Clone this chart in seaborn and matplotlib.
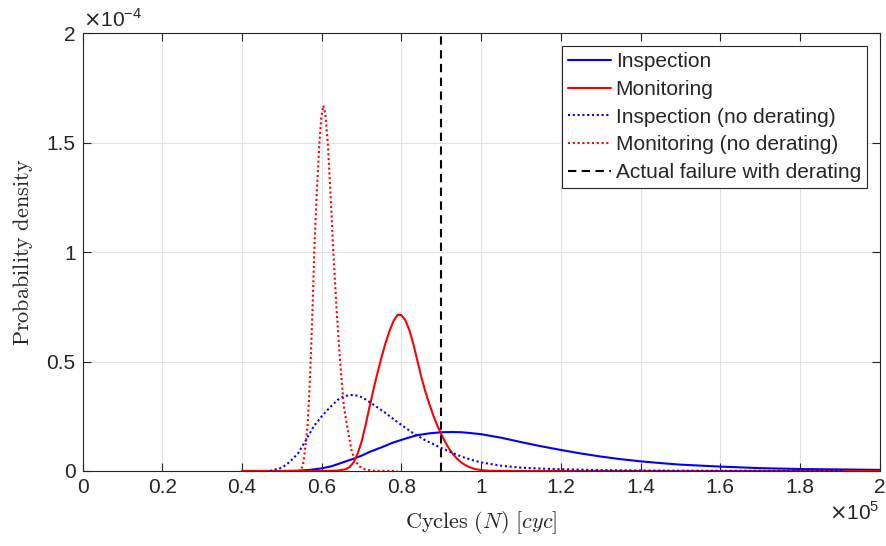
import matplotlib
matplotlib.use("Agg")
import matplotlib.pyplot as plt
from matplotlib.ticker import FuncFormatter
import numpy as np
import pandas as pd
import seaborn as sns

# Cycle axis values are in units of 1e5 cycles, densities in units of 1e-4.
X_UNIT = 1e5
Y_UNIT = 1e-4

# Inspection (with derating)
insp_x = [0.40, 0.50, 0.54, 0.57, 0.60, 0.625, 0.646, 0.665, 0.683, 0.70, 0.721,
          0.75, 0.779, 0.81, 0.838, 0.87, 0.90, 0.925, 0.95, 0.975, 1.00, 1.05,
          1.10, 1.15, 1.20, 1.25, 1.30, 1.35, 1.40, 1.45, 1.50, 1.60, 1.70, 1.80,
          1.90, 2.00]
insp_y = [0.0, 0.0, 0.001, 0.005, 0.012, 0.022, 0.035, 0.047, 0.058, 0.070, 0.088,
          0.108, 0.130, 0.148, 0.163, 0.172, 0.177, 0.178, 0.177, 0.173, 0.168, 0.152,
          0.132, 0.113, 0.096, 0.080, 0.066, 0.054, 0.044, 0.036, 0.029, 0.020, 0.013,
          0.009, 0.007, 0.005]

# Monitoring (with derating)
mon_x = [0.40, 0.60, 0.64, 0.66, 0.67, 0.68, 0.69, 0.70, 0.71, 0.72, 0.73, 0.74,
         0.75, 0.76, 0.77, 0.78, 0.79, 0.80, 0.81, 0.82, 0.83, 0.84, 0.85, 0.86,
         0.87, 0.88, 0.89, 0.90, 0.91, 0.92, 0.93, 0.94, 0.95, 0.96, 0.97, 0.98,
         0.99, 1.00, 1.02, 1.10, 2.00]
mon_y = [0.0, 0.0, 0.002, 0.008, 0.018, 0.040, 0.080, 0.135, 0.210, 0.295, 0.375,
         0.450, 0.520, 0.585, 0.640, 0.685, 0.714, 0.712, 0.688, 0.642, 0.578, 0.503,
         0.428, 0.362, 0.305, 0.253, 0.207, 0.167, 0.131, 0.100, 0.075, 0.055, 0.039,
         0.027, 0.018, 0.011, 0.007, 0.004, 0.001, 0.0, 0.0]

# Inspection (no derating)
insp_nd_x = [0.47, 0.48, 0.50, 0.52, 0.54, 0.56, 0.58, 0.60, 0.62, 0.64, 0.65,
             0.66, 0.67, 0.68, 0.69, 0.70, 0.71, 0.72, 0.74, 0.76, 0.78, 0.80,
             0.83, 0.86, 0.90, 0.925, 0.95, 0.975, 1.00, 1.05, 1.10, 1.15, 1.20,
             1.30, 1.40, 1.60, 1.91]
insp_nd_y = [0.0, 0.005, 0.015, 0.042, 0.080, 0.140, 0.205, 0.250, 0.290, 0.325, 0.336,
             0.343, 0.347, 0.347, 0.344, 0.337, 0.327, 0.315, 0.290, 0.265, 0.237, 0.210,
             0.172, 0.140, 0.105, 0.085, 0.066, 0.051, 0.039, 0.024, 0.015, 0.011, 0.008,
             0.004, 0.002, 0.0005, 0.0]

# Monitoring (no derating)
mon_nd_x = [0.540, 0.548, 0.553, 0.558, 0.564, 0.568, 0.572, 0.577, 0.581, 0.587,
            0.594, 0.599, 0.604, 0.609, 0.615, 0.622, 0.629, 0.637, 0.646, 0.655,
            0.665, 0.675, 0.685, 0.695, 0.710, 0.730, 0.790]
mon_nd_y = [0.0, 0.005, 0.030, 0.100, 0.200, 0.330, 0.500, 0.750, 1.000, 1.260,
            1.500, 1.620, 1.670, 1.630, 1.500, 1.260, 1.000, 0.740, 0.500, 0.300,
            0.190, 0.090, 0.045, 0.020, 0.006, 0.001, 0.0]

# Observed failure point with derating
failure_cycles = 0.9

series_labels = ["Inspection", "Monitoring", "Inspection (no derating)",
                 "Monitoring (no derating)"]
x_ticks = [0, 0.2, 0.4, 0.6, 0.8, 1, 1.2, 1.4, 1.6, 1.8, 2]
y_ticks = [0, 0.5, 1, 1.5, 2]

sns.set_theme(style="white")
plt.rcParams["font.family"] = ["Liberation Sans", "DejaVu Sans"]
plt.rcParams["mathtext.fontset"] = "cm"

frames = []
for lab, xs, ys in zip(series_labels,
                       [insp_x, mon_x, insp_nd_x, mon_nd_x],
                       [insp_y, mon_y, insp_nd_y, mon_nd_y]):
    frames.append(pd.DataFrame({"cycles": np.asarray(xs) * X_UNIT,
                                "density": np.asarray(ys) * Y_UNIT,
                                "series": lab}))
df = pd.concat(frames, ignore_index=True)

fig = plt.figure(figsize=(8.87, 5.46), dpi=100)
ax = fig.add_axes([0.0932, 0.1374, 0.8986, 0.8016])

styles = {
    "Inspection": dict(color=(0, 0, 1), dashes=None),
    "Monitoring": dict(color=(1, 0, 0), dashes=None),
    "Inspection (no derating)": dict(color=(0, 0, 1), dashes=(1, 1.3)),
    "Monitoring (no derating)": dict(color=(1, 0, 0), dashes=(1, 1.3)),
}
for lab in series_labels:
    sub = df[df["series"] == lab]
    st = styles[lab]
    sns.lineplot(data=sub, x="cycles", y="density", ax=ax, color=st["color"],
                 lw=1.5, label=lab, sort=True, estimator=None)
    if st["dashes"] is not None:
        ax.get_lines()[-1].set_dashes(st["dashes"])

fail_df = pd.DataFrame({"cycles": [failure_cycles * X_UNIT] * 2,
                        "density": [0.0, y_ticks[-1] * Y_UNIT]})
sns.lineplot(data=fail_df, x="cycles", y="density", ax=ax, color="black", lw=1.5,
             label="Actual failure with derating", estimator=None, sort=False)
ax.get_lines()[-1].set_dashes((4, 2.6))

ax.set_xlim(0, 2 * X_UNIT)
ax.set_ylim(0, 2 * Y_UNIT)
ax.set_xticks([v * X_UNIT for v in x_ticks])
ax.set_yticks([v * Y_UNIT for v in y_ticks])
ax.xaxis.set_major_formatter(FuncFormatter(lambda v, p: f"{v / X_UNIT:g}"))
ax.yaxis.set_major_formatter(FuncFormatter(lambda v, p: f"{v / Y_UNIT:g}"))

tick_col = "#262626"
ax.tick_params(axis="both", which="major", direction="in", length=5.5, width=0.8,
               colors=tick_col, labelsize=15, pad=5,
               top=True, right=True, bottom=True, left=True)
for sp in ax.spines.values():
    sp.set_visible(True)
    sp.set_color(tick_col)
    sp.set_linewidth(0.8)
ax.grid(True, color="#e2e2e2", linewidth=0.8)
ax.set_axisbelow(True)

ax.set_xlabel(r"$\mathrm{Cycles}\ (N)\ [cyc]$", fontsize=16, color=tick_col,
              labelpad=9)
ax.set_ylabel(r"$\mathrm{Probability\ density}$", fontsize=16, color=tick_col,
              labelpad=8)

ax.text(0.0, 1.005, r"$\times$10$^{\mathregular{-4}}$", transform=ax.transAxes,
        fontsize=15, color=tick_col, ha="left", va="bottom",
        math_fontfamily="dejavusans")
ax.text(1.0, -0.068, r"$\times$10$^{\mathregular{5}}$", transform=ax.transAxes,
        fontsize=15, color=tick_col, ha="right", va="top",
        math_fontfamily="dejavusans")

leg = ax.legend(loc="upper right", fontsize=15, frameon=True, fancybox=False,
                edgecolor="#262626", framealpha=1, borderaxespad=0.6,
                handlelength=2.05, handletextpad=0.25, labelspacing=0.42,
                borderpad=0.3)
leg.get_frame().set_linewidth(0.8)

fig.savefig("out.png", dpi=100)
